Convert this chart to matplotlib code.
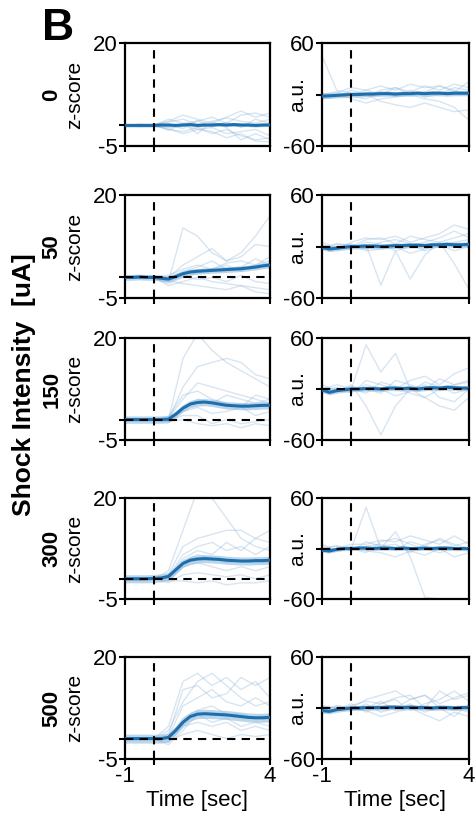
import numpy as np
import matplotlib.pyplot as plt

plt.rcParams['font.family'] = ['Liberation Sans', 'DejaVu Sans']

intensities = ['0', '50', '150', '300', '500']

# time grids (sec)
t_mean = [-1, -0.75, -0.5, -0.25, 0, 0.25, 0.5, 0.75, 1, 1.25, 1.5, 1.75,
          2, 2.25, 2.5, 2.75, 3, 3.25, 3.5, 3.75, 4]
t_trace = [-1, -0.5, 0, 0.5, 1, 1.5, 2, 2.5, 3, 3.5, 4]

# mean z-score traces (left column)
zmean_0 = [0, 0, 0, 0, 0, 0.1, 0.1, 0, 0.1, 0.2, 0, 0.1, 0.1, 0.2, 0.1, 0.2, 0.1, 0.1, 0, 0.1, 0.1]
zmean_50 = [0, 0, 0.1, 0, 0, -0.2, -0.4, 0.2, 0.9, 1.3, 1.5, 1.6, 1.7, 1.8, 1.9, 2.0, 2.1, 2.3, 2.5, 2.8, 3.0]
zmean_150 = [0, 0, 0, 0, 0, 0, 0.1, 1.3, 2.8, 3.8, 4.2, 4.3, 4.1, 3.8, 3.5, 3.4, 3.3, 3.3, 3.4, 3.5, 3.5]
zmean_300 = [0, 0, 0, 0, 0.1, 0.2, 0.6, 2.2, 3.8, 4.6, 4.9, 5.0, 4.9, 4.8, 4.6, 4.5, 4.4, 4.4, 4.5, 4.5, 4.6]
zmean_500 = [0, 0, 0, 0, 0, 0, 0.3, 2.0, 4.0, 5.4, 6.0, 6.1, 6.0, 5.9, 5.8, 5.6, 5.4, 5.2, 5.1, 5.1, 5.2]
zsem = [0.4, 0.7, 0.9, 1.0, 1.1]

# mean a.u. traces (right column)
amean_0 = [-2, -1.5, -1, -0.5, 0, 0, 0.5, 0.5, 1, 1, 0.5, 1, 1, 1.5, 1, 1.5, 1.5, 1, 1.5, 1.5, 1.5]
amean_50 = [-1, -3, -2, -1, 0, 0, 0.5, 0.5, 0, 0.5, 1, 1, 1.5, 1.5, 1, 2, 2, 2.5, 2, 2, 2.5]
amean_150 = [-1, -4, -2, -1, 0, 0, 0.5, 0.5, 0, 1, 1, 0.5, 1, 0, 1, 1.5, 1, 2, 1.5, 1, 1]
amean_300 = [-2, -3, -1, 0, 0, 0.5, 0.5, 0, 0.5, 0.5, 0, 0.5, 0, 0, 0.5, 0, 0.5, 0.5, 0, 0, 0]
amean_500 = [-3, -4, -2, -1, 0, 0, 0.5, 0.5, 0.5, 1, 1, 0.5, 1, 0.5, 0.5, 0, 0.5, 0.5, 0, 0.5, 0.5]
asem = [3, 3, 3, 2.5, 3]

# individual animals, z-score
ztr_0 = [
    [0, 0.3, 0, 1.5, 0.5, 1, 2, 0.5, 2.5, 3, 2],
    [0, -0.2, 0, -1, -1.5, -0.5, -2, -1, -2.5, -3.5, -3],
    [0, 0.2, 0.3, 0.8, 1.5, 0.3, 1, 1.8, 1, 0.5, 1.5],
    [0, -0.3, -0.2, -0.5, 0.2, -1, -0.5, -2, -1.5, -1, -2.5],
    [0, 0.1, -0.3, 0.3, -0.8, 1.2, -0.3, 0.8, -0.5, 1.5, 0.5],
    [0, -0.1, 0.2, -1.2, 0.5, -2, 0.8, -0.5, -3.5, -2, -3.5],
    [0, 0.2, 0.1, 1, 2.5, 1.5, 0.5, 2, 3.5, 2, 3],
    [0, -0.2, -0.1, -0.8, -2, -1, -1.5, -3, -2, -3.8, -4],
]
ztr_50 = [
    [0, 0.3, 0, -1, 12, 10, 6, 4, 6, 10, 15],
    [0, -0.2, 0.3, 0, 3, 5, 7, 4, 5, 8, 7.5],
    [0, 0.2, -0.3, -1.5, 0, 1, 2, 3, 1.5, 3, 4],
    [0, -0.3, 0, -2, -1, 0, -1, -1.5, -2, -2.5, -3],
    [0, 0.2, 0.2, 0.5, 2, 3, 2, 3.5, 4, 3, 5],
    [0, -0.1, -0.2, -1, 0.5, -0.5, 0, -1, 0.5, -1, -1.5],
    [0, 0.1, 0.1, 0, 1.5, 2.5, 4, 2, 2.5, 4.5, 3],
    [0, 0, -0.3, -0.8, -1.5, -2, -2.5, -3, -2, -3.5, -4],
]
ztr_150 = [
    [0, 0.2, 0, 0, 15, 21, 17, 14, 12, 10, 8],
    [0, -0.2, 0.2, 0, 8, 13, 14, 15, 14, 11, 10],
    [0, 0.1, -0.1, 0.5, 5, 9, 8, 7, 6, 5, 4],
    [0, -0.1, 0, -0.5, 3, 5, 4, 6, 5, 4, 5],
    [0, 0.2, 0.1, 0.3, 2, 3, 1.5, 2, 3, 1, 2],
    [0, -0.2, -0.1, -0.3, 1, 1, -1, 0, -1, -0.5, 0],
    [0, 0, 0.2, 0.8, 6, 7, 5, 4, 3, 6, 5],
    [0, 0.1, -0.2, -0.5, 0, -1, -1.5, -1, -2, -1, -1.5],
]
ztr_300 = [
    [0, 0.2, 0, 2, 12, 22, 20, 15, 10, 8, 7],
    [0, -0.2, 0.2, 1, 8, 10, 11, 12, 12, 10, 12],
    [0, 0.1, -0.2, 0.5, 6, 8, 9, 7, 8, 6, 8],
    [0, -0.1, 0.1, 0, 4, 6, 5, 4, 4.5, 4, 4],
    [0, 0, 0.1, -0.5, 3, 4, 3, 2, 3, 2, 3],
    [0, 0.1, -0.1, -1, 1, 1.5, 1, 0.5, 1, 0, 1],
    [0, -0.2, 0, 0.3, 5, 7, 6, 9, 7, 10, 9],
    [0, 0.1, 0.1, -0.5, -0.5, -1, -0.5, -1.5, -1, -1, -0.5],
]
ztr_500 = [
    [0, 0.2, 0, 3, 14, 16, 13, 15, 12, 14, 10],
    [0, -0.2, 0.1, 1, 12, 13, 10, 11, 15, 13, 15],
    [0, 0.1, -0.1, 0.5, 8, 10, 12, 9, 8, 10, 8],
    [0, -0.1, 0.2, 0, 5, 7, 8, 6, 6, 5, 6],
    [0, 0.2, -0.2, -1, 3, 4, 3, 4, 2, 3, 2],
    [0, 0, 0.1, -0.5, 1, 2, 1, 0, 1, 0.5, 1],
    [0, -0.1, 0, 2, 9, 14, 16, 13, 10, 8, 9],
    [0, 0.1, -0.1, -1.5, 2, 6, 4, 5, 3, 4, 3],
]

# individual animals, a.u.
atr_0 = [
    [45, 5, 2, -2, 5, 8, 3, 10, 5, 12, 8],
    [-5, -3, 5, 0, -8, -12, -15, -10, -15, -20, -18],
    [0, 2, 8, 5, 10, 5, 12, 8, 10, 3, 15],
    [-3, 0, -5, -10, -5, -3, 0, -5, -8, -15, -30],
    [2, -2, 0, 5, 0, 8, 0, 3, 10, 5, 0],
    [0, 3, -2, -5, 3, -2, 5, -3, 0, 8, 5],
]
atr_50 = [
    [-5, 3, 0, 2, -45, -5, -38, -10, 5, -20, -50],
    [2, -3, 5, 10, 8, 12, 5, 10, 15, 25, 20],
    [-3, 0, -2, 5, 3, -5, 0, 5, 10, 18, 10],
    [0, 3, 2, -3, 5, 8, 3, -5, 0, 5, 8],
    [5, -2, 0, 8, 10, 3, 12, 8, 5, 10, 15],
    [-2, 0, 3, -5, -3, 0, -8, -3, 2, -5, 0],
]
atr_150 = [
    [2, 0, 0, 52, 20, 42, 0, -10, 0, 5, 10],
    [0, -3, 5, -20, -54, -20, 0, 5, -10, -15, 0],
    [-3, 2, -5, 10, 5, 0, 10, 15, 5, 18, 25],
    [0, 5, 0, -5, 8, 3, -5, -10, -20, -25, -10],
    [5, -2, 3, 0, -5, 10, 5, 0, 12, 5, 8],
    [-5, 0, -3, 5, 0, -8, -3, 8, 3, -5, 0],
]
atr_300 = [
    [0, 3, 0, 49, 0, 20, -10, -58, -60, -60, -60],
    [-3, 0, 5, 5, 10, 8, 15, 10, 5, 15, 5],
    [5, -2, 0, -5, 8, 12, 5, 0, -5, 0, -3],
    [0, 3, -3, 8, 3, 5, -5, 5, 10, 3, 8],
    [-2, 0, 2, -3, -5, -10, -3, -8, 0, -10, -5],
    [3, -3, 0, 3, 5, -2, 8, 3, 12, 5, 0],
]
atr_500 = [
    [-3, 2, 0, 10, 15, 20, 10, 15, 5, 12, 18],
    [0, -2, 5, -5, 5, 12, 15, 0, 20, 10, 15],
    [2, 0, -3, 5, -5, 0, 10, 15, 0, -10, 5],
    [-5, 3, 0, -3, -10, -5, 0, -8, -15, -5, -10],
    [0, -3, 3, 8, 5, 10, -3, 5, 10, 20, 8],
    [3, 0, -2, 0, 8, -3, 5, -5, 3, 0, -5],
]

zmeans = [zmean_0, zmean_50, zmean_150, zmean_300, zmean_500]
ameans = [amean_0, amean_50, amean_150, amean_300, amean_500]
ztraces = [ztr_0, ztr_50, ztr_150, ztr_300, ztr_500]
atraces = [atr_0, atr_50, atr_150, atr_300, atr_500]

W, H = 475, 825
fig = plt.figure(figsize=(W / 100, H / 100), dpi=100)

rows_px = [(43, 146), (195, 298), (338, 440), (498, 599), (657, 759)]
cols_px = [(125, 270), (322, 469)]

mean_col = '#1f6eac'
trace_col = '#8fb5d8'

for i in range(5):
    top, bot = rows_px[i]
    for j in range(2):
        l, r = cols_px[j]
        ax = fig.add_axes([l / W, 1 - bot / H, (r - l) / W, (bot - top) / H])
        if j == 0:
            m, tr, sem = np.array(zmeans[i]), ztraces[i], zsem[i]
            ylim, yt, ylab = (-5, 20), [-5, 0, 20], ['-5', '', '20']
            name = 'z-score'
        else:
            m, tr, sem = np.array(ameans[i]), atraces[i], asem[i]
            ylim, yt, ylab = (-60, 60), [-60, 0, 60], ['-60', '', '60']
            name = 'a.u.'
        for y in tr:
            ax.plot(t_trace, y, color=trace_col, lw=1, alpha=0.35, zorder=1)
        ax.fill_between(t_mean, m - sem, m + sem, color='#8dbbe0', alpha=0.6,
                        lw=0, zorder=2)
        ax.plot(t_mean, m, color=mean_col, lw=2.2, zorder=3)
        ax.axvline(0, color='black', ls=(0, (4, 3)), lw=1.5, zorder=4)
        if i > 0:
            ax.axhline(0, color='black', ls=(0, (4, 3)), lw=1.5, zorder=4)
        ax.set_xlim(-1, 4)
        ax.set_ylim(*ylim)
        ax.set_yticks(yt)
        ax.set_yticklabels(ylab, fontsize=16)
        ax.set_xticks([-1, 0, 4])
        if i == 4:
            ax.set_xticklabels(['-1', '', '4'], fontsize=16)
            ax.set_xlabel('Time [sec]', fontsize=16, labelpad=2)
        else:
            ax.set_xticklabels([])
        ax.tick_params(direction='out', length=4, width=1.5, pad=1)
        for s in ax.spines.values():
            s.set_linewidth(1.6)
        ax.set_ylabel(name, fontsize=15)
        if j == 0:
            ax.yaxis.set_label_coords(-0.28, 0.5)
        else:
            ax.yaxis.set_label_coords(-0.10, 0.5)

    fig.text(52 / W, 1 - (top + bot) / 2 / H, intensities[i], rotation=90,
             fontsize=16, fontweight='bold', ha='center', va='center')

fig.text(24 / W, 1 - 385 / H, 'Shock Intensity  [uA]', rotation=90,
         fontsize=19, fontweight='bold', ha='center', va='center')
fig.text(58 / W, 1 - 29 / H, 'B', fontsize=32, fontweight='bold',
         ha='center', va='center')

fig.savefig('out.png', dpi=100)
